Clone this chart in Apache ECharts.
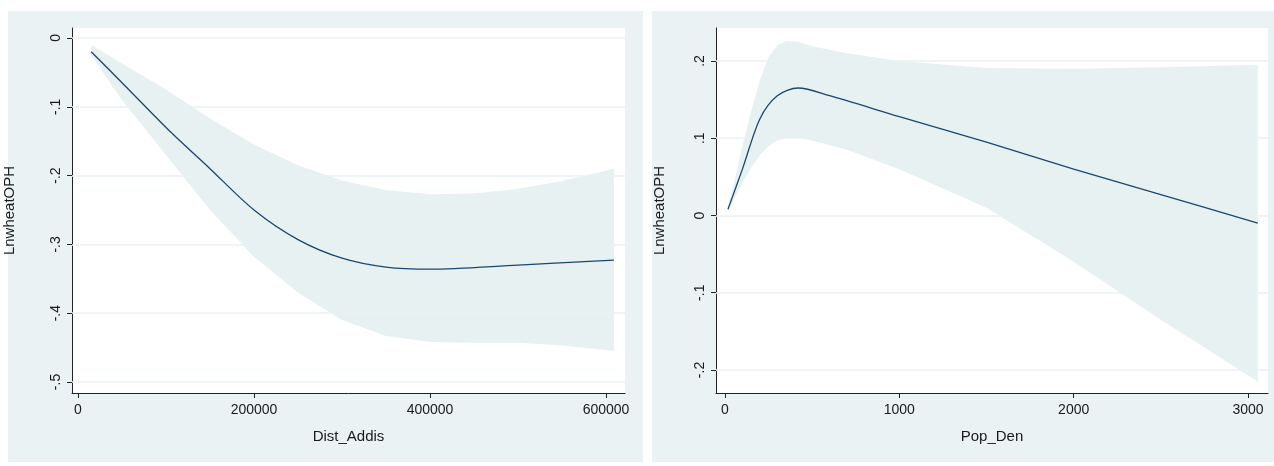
<!DOCTYPE html>
<html>
<head>
<meta charset="utf-8">
<script src="https://cdn.jsdelivr.net/npm/echarts@6/dist/echarts.min.js"></script>
<style>html,body{margin:0;padding:0;background:#fff}#c{width:1274px;height:466px}</style>
</head>
<body>
<div id="c"></div>
<script>
// left panel: Dist_Addis
const distX = [15000, 50000, 100000, 150000, 200000, 250000, 300000, 350000, 400000, 500000, 609000];
const distFit = [-0.02, -0.065, -0.13, -0.19, -0.25, -0.293, -0.32, -0.333, -0.336, -0.33, -0.323];
const distBandX = [15000, 50000, 100000, 150000, 200000, 250000, 300000, 350000, 400000, 450000, 500000, 550000, 609000];
const distUp = [-0.01, -0.037, -0.075, -0.117, -0.155, -0.185, -0.207, -0.221, -0.227, -0.226, -0.219, -0.208, -0.19];
const distLo = [-0.025, -0.09, -0.17, -0.25, -0.318, -0.37, -0.41, -0.433, -0.442, -0.443, -0.443, -0.447, -0.455];
// right panel: Pop_Den
const popX = [17, 100, 200, 300, 420, 600, 1000, 1500, 2000, 2500, 3056];
const popFit = [0.008, 0.06, 0.125, 0.155, 0.165, 0.155, 0.128, 0.095, 0.06, 0.027, -0.01];
const popBandX = [17, 60, 100, 150, 200, 250, 300, 350, 420, 500, 700, 1000, 1500, 2000, 2500, 3056];
const popUp = [0.01, 0.05, 0.09, 0.135, 0.175, 0.205, 0.22, 0.226, 0.225, 0.219, 0.21, 0.2, 0.191, 0.19, 0.192, 0.195];
const popLo = [0.005, 0.025, 0.042, 0.062, 0.078, 0.09, 0.097, 0.1, 0.1, 0.097, 0.085, 0.06, 0.01, -0.06, -0.135, -0.215];
// tick labels
const distTicksX = [0, 200000, 400000, 600000];
const distTicksY = [0, -0.1, -0.2, -0.3, -0.4, -0.5];
const popTicksX = [0, 1000, 2000, 3000];
const popTicksY = [0.2, 0.1, 0, -0.1, -0.2];

const bandCol = '#e8f1f2', lineCol = '#1a476f', gridCol = '#eaf2f3';
const fmt = v => { const s = (+(+v).toFixed(2)).toString(); return s.replace(/^(-?)0\./, '$1.'); };
const pairs = (xs, ys) => xs.map((x, i) => [x, ys[i]]);
const font = { fontFamily: 'Liberation Sans', color: '#1a1a1a' };

function axes(idx, xr, yr, xt, yt, xname, ngap) {
  return {
    x: {
      type: 'value', gridIndex: idx, min: xr[0], max: xr[1],
      name: xname, nameLocation: 'middle', nameGap: 36,
      nameTextStyle: Object.assign({ fontSize: 15 }, font),
      axisLine: { show: true, onZero: false, lineStyle: { color: '#222' } },
      axisTick: { show: true, length: 5, customValues: xt, lineStyle: { color: '#222' } },
      axisLabel: Object.assign({ fontSize: 14, margin: 10, customValues: xt, formatter: v => String(v) }, font),
      splitLine: { show: false }
    },
    y: {
      type: 'value', gridIndex: idx, min: yr[0], max: yr[1],
      name: 'LnwheatOPH', nameLocation: 'middle', nameGap: ngap,
      nameTextStyle: Object.assign({ fontSize: 15 }, font),
      axisLine: { show: true, onZero: false, lineStyle: { color: '#222' } },
      axisTick: { show: true, length: 5, customValues: yt, lineStyle: { color: '#222' } },
      axisLabel: Object.assign({ fontSize: 14, rotate: 90, margin: 9, customValues: yt, formatter: fmt }, font),
      splitLine: { show: false }
    }
  };
}
const a0 = axes(0, [-6818, 621591], [-0.516, 0.0145], distTicksX, distTicksY, 'Dist_Addis', 55);
const a1 = axes(1, [-51.6, 3114.7], [-0.2298, 0.2427], popTicksX, popTicksY, 'Pop_Den', 49);

function band(idx, xs, lo, up, yt) {
  const data = xs.map((x, i) => [x, lo[i], up[i]]);
  return {
    type: 'custom', xAxisIndex: idx, yAxisIndex: idx, z: 1, silent: true,
    data: data,
    renderItem: (params, api) => {
      if (params.dataIndex !== 0) return;
      const top = data.map(d => api.coord([d[0], d[2]]));
      const bot = data.map(d => api.coord([d[0], d[1]])).reverse();
      return { type: 'polygon', shape: { points: top.concat(bot) }, style: { fill: bandCol } };
    },
    markLine: { silent: true, symbol: 'none', label: { show: false }, animation: false,
      lineStyle: { color: gridCol, width: 1.5, type: 'solid' },
      data: yt.map(v => ({ yAxis: v })) }
  };
}
function fitLine(idx, xs, ys) {
  return {
    type: 'line', xAxisIndex: idx, yAxisIndex: idx, symbol: 'none', smooth: 0.3,
    data: pairs(xs, ys), lineStyle: { color: lineCol, width: 1.3 }, z: 5
  };
}

const option = {
  animation: false,
  graphic: [
    { type: 'rect', shape: { x: 8, y: 11, width: 635, height: 451 }, style: { fill: '#eaf2f3' }, z: -10 },
    { type: 'rect', shape: { x: 652, y: 11, width: 622, height: 451 }, style: { fill: '#eaf2f3' }, z: -10 }
  ],
  grid: [
    { left: 72, right: 649, top: 28, bottom: 73, show: true, backgroundColor: '#fff', borderWidth: 0 },
    { left: 716, right: 6, top: 28, bottom: 73, show: true, backgroundColor: '#fff', borderWidth: 0 }
  ],
  xAxis: [a0.x, a1.x],
  yAxis: [a0.y, a1.y],
  series: [
    band(0, distBandX, distLo, distUp, distTicksY),
    fitLine(0, distX, distFit),
    band(1, popBandX, popLo, popUp, popTicksY),
    fitLine(1, popX, popFit)
  ]
};
echarts.init(document.getElementById('c')).setOption(option);
</script>
</body>
</html>
